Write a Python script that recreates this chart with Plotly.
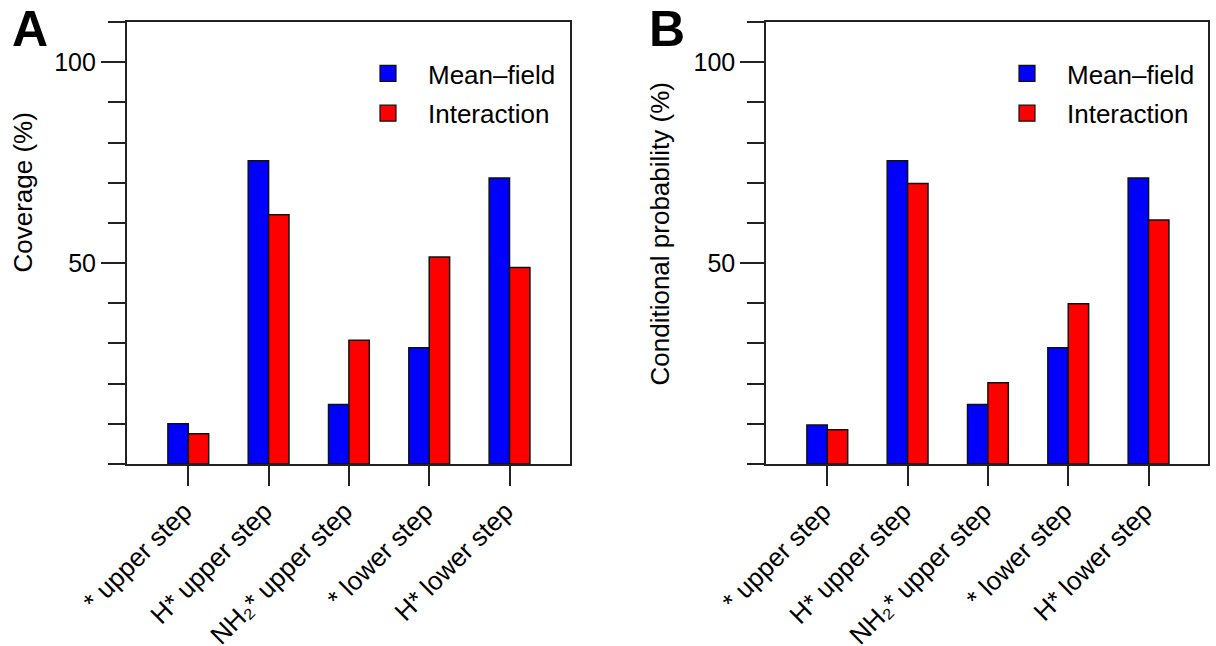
import plotly.graph_objects as go

categories = ["* upper step", "H* upper step", "NH\u2082* upper step", "* lower step", "H* lower step"]
series_names = ["Mean\u2013field", "Interaction"]
coverage_meanfield = [10.0, 75.5, 14.8, 28.9, 71.2]
coverage_interaction = [7.5, 62.0, 30.8, 51.5, 48.9]
condprob_meanfield = [9.7, 75.5, 14.8, 28.9, 71.2]
condprob_interaction = [8.5, 69.8, 20.2, 39.9, 60.7]
ytick_vals = [50, 100]
ytitles = ["Coverage (%)", "Conditional probability (%)"]
panel_letters = ["A", "B"]

W, H = 1216, 646
FONT = "Liberation Sans, Arial, Helvetica, sans-serif"
FS = 25
colors = ["#0000ff", "#ff0000"]
positions = list(range(len(categories)))

ydom = [1 - 464 / H, 1 - 22 / H]
xdomA = [126.7 / W, 570 / W]
xdomB = [766 / W, 1208 / W]

fig = go.Figure()

panels = [
    (coverage_meanfield, coverage_interaction, "x", "y", "legend"),
    (condprob_meanfield, condprob_interaction, "x2", "y2", "legend2"),
]
for mf, inter, xa, ya, lg in panels:
    for vals, name, col in zip([mf, inter], series_names, colors):
        fig.add_trace(go.Bar(x=positions, y=vals, name=name, xaxis=xa, yaxis=ya,
                             marker=dict(color=col, line=dict(color="#111111", width=1.5)),
                             showlegend=False))
    for i, (name, col) in enumerate(zip(series_names, colors)):
        fig.add_trace(go.Scatter(x=[None], y=[None], mode="markers", name=name,
                                 xaxis=xa, yaxis=ya, legend=lg, legendgroup=lg + str(i),
                                 marker=dict(symbol="square", size=16, color=col,
                                             line=dict(color="#111111", width=1.2))))

axline = dict(showline=True, linecolor="#222222", linewidth=1.5, mirror=True,
              showgrid=False, zeroline=False, automargin=False)

def xaxis_cfg(dom, rng):
    return dict(domain=dom, range=rng, tickmode="array", tickvals=positions,
                ticktext=categories, ticks="outside", ticklen=20, tickwidth=1.5,
                tickcolor="#222222", tickangle=-45, ticklabelshift=-4,
                tickfont=dict(family=FONT, size=26, color="black"), **axline)

def yaxis_cfg(anchor):
    return dict(domain=ydom, range=[0, 110], anchor=anchor, tickmode="array",
                tickvals=ytick_vals, ticks="outside", ticklen=24, tickwidth=1.5,
                tickcolor="#222222",
                minor=dict(ticks="outside", ticklen=17, tickwidth=1.5, dtick=10,
                           tick0=0, tickcolor="#222222"),
                tickfont=dict(family=FONT, size=FS, color="black"), **axline)

legend_common = dict(font=dict(family=FONT, size=26, color="black"),
                     bgcolor="rgba(0,0,0,0)", tracegroupgap=3, itemwidth=70,
                     xanchor="left", yanchor="top", itemsizing="trace")

fig.update_layout(
    width=W, height=H, autosize=False,
    margin=dict(l=0, r=0, t=0, b=0, pad=0),
    paper_bgcolor="white", plot_bgcolor="white",
    barmode="group", bargap=0.492, bargroupgap=0,
    xaxis=xaxis_cfg(xdomA, [-0.767, 4.753]),
    xaxis2=xaxis_cfg(xdomB, [-0.763, 4.74]),
    yaxis=yaxis_cfg("x"),
    yaxis2=yaxis_cfg("x2"),
    legend=dict(x=348 / W, y=1 - 50 / H, **legend_common),
    legend2=dict(x=987 / W, y=1 - 50 / H, **legend_common),
    showlegend=True,
)

# y-axis titles and panel letters
for title, (cx, cy) in zip(ytitles, [(22, 192.5), (660, 234.5)]):
    fig.add_annotation(text=title, x=cx / W, y=1 - cy / H, xref="paper", yref="paper",
                       textangle=-90, showarrow=False, xanchor="center", yanchor="middle",
                       font=dict(family=FONT, size=26, color="black"))
for letter, (cx, cy) in zip(panel_letters, [(29.5, 29), (666.5, 29)]):
    fig.add_annotation(text="<b>" + letter + "</b>", x=cx / W, y=1 - cy / H,
                       xref="paper", yref="paper", showarrow=False,
                       xanchor="center", yanchor="middle",
                       font=dict(family=FONT, size=50, color="black"))

fig.write_html("out.html", config={"displayModeBar": False},
               post_script="document.body.style.margin='0px';")
